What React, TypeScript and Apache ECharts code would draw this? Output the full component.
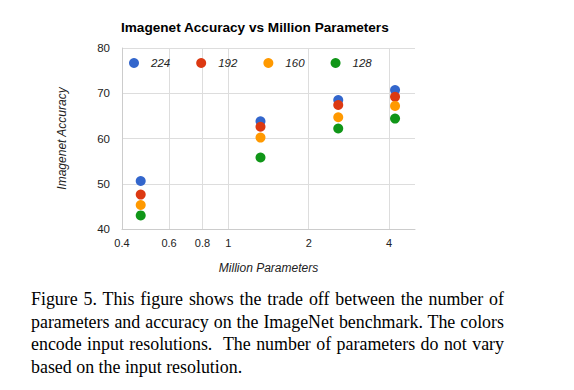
import React, { useEffect, useRef } from "react";
import * as echarts from "echarts";

const params = [0.47, 1.32, 2.58, 4.21];
const res224 = [50.6, 63.8, 68.5, 70.7];
const res192 = [47.6, 62.6, 67.4, 69.2];
const res160 = [45.3, 60.2, 64.7, 67.2];
const res128 = [43.0, 55.8, 62.2, 64.4];
const seriesNames = ["224", "192", "160", "128"];
const seriesColors = ["#3366cc", "#dc3912", "#ff9900", "#109618"];
const xTicks = [0.4, 0.6, 0.8, 1, 2, 4];
const titleText = "Imagenet Accuracy vs Million Parameters";
const xName = "Million Parameters";
const yName = "Imagenet Accuracy";
const captionText =
  "Figure 5. This figure shows the trade off between the number of parameters and accuracy on the ImageNet benchmark. The colors encode input resolutions.\u00a0 The number of parameters do not vary based on the input resolution.";

const FONT = "'Liberation Sans', Arial, sans-serif";

export default function App() {
  const ref = useRef<HTMLDivElement>(null);
  useEffect(() => {
    if (!ref.current) return;
    const chart = echarts.init(ref.current, null, { renderer: "svg" });
    const allSeries = [res224, res192, res160, res128];
    chart.setOption({
      animation: false,
      backgroundColor: "#ffffff",
      color: seriesColors,
      title: {
        text: titleText,
        left: 121,
        top: 20,
        padding: 0,
        textStyle: { fontFamily: FONT, fontSize: 13.6, fontWeight: "bold", color: "#000" },
      },
      legend: {
        data: seriesNames,
        left: 129,
        top: 57,
        padding: 0,
        icon: "circle",
        itemWidth: 10,
        itemHeight: 10,
        itemGap: 26,
        textStyle: {
          fontFamily: FONT,
          fontSize: 11.5,
          fontStyle: "italic",
          color: "#222",
          padding: [0, 0, 0, 7],
        },
      },
      grid: { left: 122, right: 159, top: 48, bottom: 56, containLabel: false },
      xAxis: {
        type: "log",
        logBase: 10,
        min: 0.4,
        max: 5,
        name: xName,
        nameLocation: "middle",
        nameGap: 33,
        nameTextStyle: { fontFamily: FONT, fontSize: 12, fontStyle: "italic", color: "#222" },
        axisLine: { show: true, lineStyle: { color: "#cccccc" } },
        axisTick: { show: false, customValues: xTicks },
        axisLabel: {
          customValues: xTicks,
          fontFamily: FONT,
          fontSize: 11,
          color: "#222",
          margin: 8,
          formatter: (v: number) => String(Math.round(v * 10) / 10),
        },
        splitLine: { show: true, lineStyle: { color: "#dddddd" } },
      },
      yAxis: {
        type: "value",
        min: 40,
        max: 80,
        interval: 10,
        name: yName,
        nameLocation: "middle",
        nameGap: 54,
        nameRotate: 90,
        nameTextStyle: { fontFamily: FONT, fontSize: 12, fontStyle: "italic", color: "#222" },
        axisLine: { show: true, lineStyle: { color: "#cccccc" } },
        axisTick: { show: false },
        axisLabel: { fontFamily: FONT, fontSize: 11.5, color: "#222", margin: 12 },
        splitLine: { show: true, lineStyle: { color: "#dddddd" } },
      },
      series: seriesNames.map((name, i) => ({
        name,
        type: "scatter",
        symbol: "circle",
        symbolSize: 10,
        itemStyle: { color: seriesColors[i], opacity: 1 },
        data: params.map((p, j) => [p, allSeries[i][j]]),
      })),
    });
    return () => chart.dispose();
  }, []);

  return (
    <div
      style={{
        position: "absolute",
        left: 0,
        top: 0,
        width: 574,
        height: 390,
        background: "#fff",
      }}
    >
      <div ref={ref} style={{ position: "absolute", left: 0, top: 0, width: 574, height: 285 }} />
      <div
        style={{
          position: "absolute",
          left: 31,
          top: 288,
          width: 473,
          fontFamily: "'Liberation Serif', 'Times New Roman', serif",
          fontSize: 17.9,
          lineHeight: "22.7px",
          textAlign: "justify",
          color: "#000",
        }}
      >
        {captionText}
      </div>
    </div>
  );
}
